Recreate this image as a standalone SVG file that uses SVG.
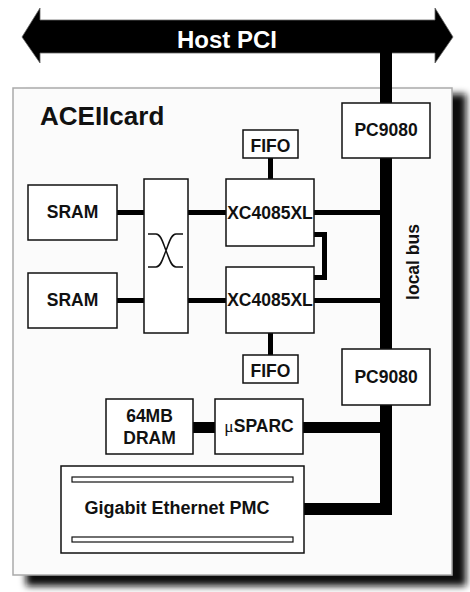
<svg xmlns="http://www.w3.org/2000/svg" width="470" height="592" viewBox="0 0 470 592">
<defs>
<filter id="shadow" x="-10%" y="-10%" width="120%" height="120%"><feGaussianBlur stdDeviation="3.5"/></filter>
</defs>
<style>
.box{fill:#fff;stroke:#111;stroke-width:1.5}
.t{font-family:"Liberation Sans",Arial,sans-serif;font-weight:bold;font-size:17.5px;fill:#111;text-anchor:middle}
.w{stroke:#000;fill:none;stroke-width:5}
.bus{stroke:#000;fill:none;stroke-width:12;stroke-linejoin:miter}
</style>
<rect width="470" height="592" fill="#fff"/>
<!-- card shadow and card -->
<rect x="26" y="94" width="440" height="492" fill="#111" filter="url(#shadow)"/>
<rect id="card" x="13" y="88" width="439" height="487" fill="#fbfbfb" stroke="#aaa" stroke-width="1.5"/>
<text class="t" x="40" y="125" style="font-size:26px;text-anchor:start">ACEIIcard</text>

<!-- Host PCI arrow -->
<g id="hostpci">
<polygon points="22,37 40,8 40,20 435,20 435,8 453,37 435,63 435,53 40,53 40,63" fill="#000" stroke="#666" stroke-width="0.8"/>
<text class="t" x="227" y="48" style="font-size:24px;fill:#fff">Host PCI</text>
</g>

<g id="connectors">
<path class="bus" d="M386,50 V104"/>
<path class="bus" d="M386,158 V349"/>
<path class="bus" d="M386,405 V509 H304"/>
<path class="w" d="M314,212.5 H382"/>
<path class="w" d="M314,300.5 H382"/>
<path class="w" d="M117,212.5 H144"/>
<path class="w" d="M188,212.5 H226"/>
<path class="w" d="M117,300.5 H144"/>
<path class="w" d="M188,300.5 H226"/>
<path class="w" d="M270.5,158 V179"/>
<path class="w" d="M270.5,333 V355"/>
<path class="w" d="M314,234.5 H324.5 V277.5 H314" style="stroke-linejoin:miter"/>
<path d="M303,427.5 H382" stroke="#000" stroke-width="11"/>
<path d="M193,427.5 H215" stroke="#000" stroke-width="11"/>
</g>

<g id="pc9080a"><rect class="box" x="342" y="103" width="88" height="55"/><text class="t" x="386" y="136">PC9080</text></g>
<g id="fifo1"><rect class="box" x="243" y="130" width="55" height="28"/><text class="t" x="270.5" y="152">FIFO</text></g>
<g id="xc1"><rect class="box" x="226" y="179" width="88" height="67"/><text class="t" x="270" y="219">XC4085XL</text></g>
<g id="sram1"><rect class="box" x="28" y="185" width="89" height="55"/><text class="t" x="72.5" y="218">SRAM</text></g>
<g id="crossbar"><rect class="box" x="144" y="179" width="44" height="154"/>
<path d="M148,234 H156 C161,234 163,243 166,250.5 C169,258 171,267 176,267 H183 M183,234 H176 C171,234 169,243 166,250.5 C163,258 161,267 156,267 H148" fill="none" stroke="#111" stroke-width="1.5"/></g>
<g id="sram2"><rect class="box" x="28" y="273" width="89" height="55"/><text class="t" x="72.5" y="306">SRAM</text></g>
<g id="xc2"><rect class="box" x="226" y="267" width="88" height="66"/><text class="t" x="270" y="306">XC4085XL</text></g>
<g id="fifo2"><rect class="box" x="243" y="355" width="55" height="28"/><text class="t" x="270.5" y="377">FIFO</text></g>
<g id="pc9080b"><rect class="box" x="342" y="349" width="88" height="56"/><text class="t" x="386" y="383">PC9080</text></g>
<g id="localbus"><text class="t" transform="translate(419,262) rotate(-90)">local bus</text></g>
<g id="dram"><rect class="box" x="106" y="399" width="87" height="55"/><text class="t" x="149.5" y="422">64MB</text><text class="t" x="149.5" y="444">DRAM</text></g>
<g id="usparc"><rect class="box" x="215" y="399" width="88" height="55"/><text class="t" x="259" y="432"><tspan style="font-family:'Liberation Serif',serif;font-weight:normal">μ</tspan>SPARC</text></g>
<g id="gigabit"><rect class="box" x="61" y="466" width="243" height="87"/>
<rect x="72" y="477" width="221" height="5" fill="#fff" stroke="#111" stroke-width="1.2"/>
<rect x="72" y="537" width="221" height="5" fill="#fff" stroke="#111" stroke-width="1.2"/>
<text class="t" x="177" y="514" style="font-size:18px">Gigabit Ethernet PMC</text></g>
</svg>
